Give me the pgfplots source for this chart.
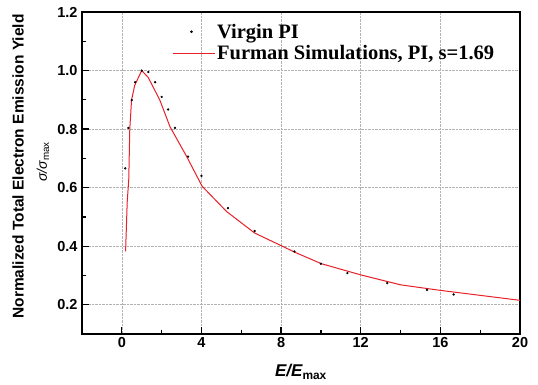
\documentclass[border=0pt]{standalone}
\usepackage{pgfplots}
\pgfplotsset{compat=1.18}
\usepackage{fontspec}
\setmainfont{Liberation Sans}
\newfontfamily\legfont{Liberation Serif}
\definecolor{fred}{RGB}{232,32,40}
\pgfplotsset{
  dotleg/.style={legend image code/.code={\path[draw=none] (0pt,0pt) -- (42pt,0pt); \fill[black] (19pt,0pt) circle (1.1pt);}},
  lineleg/.style={legend image code/.code={\draw[fred, line width=1.1pt] (0pt,0pt) -- (42pt,0pt);}},
}
\begin{document}
\begin{tikzpicture}
\begin{axis}[
  scale only axis, clip=false,
  width=438pt, height=322pt,
  xmin=-2, xmax=20, ymin=0.1, ymax=1.2,
  xtick={0,4,8,12,16,20},
  minor xtick={2,6,10,14,18},
  ytick={0.2,0.4,0.6,0.8,1.0,1.2},
  minor ytick={0.3,0.5,0.7,0.9,1.1},
  axis line style={line width=1.5pt},
  tick style={line width=1.3pt, black},
  major tick length=7pt, minor tick length=4pt,
  tick pos=left, tick align=inside,
  xmajorgrids, ymajorgrids,
  major grid style={densely dotted, gray!60, line width=0.5pt},
  /pgf/number format/assume math mode=true,
  yticklabel style={/pgf/number format/fixed, /pgf/number format/fixed zerofill, /pgf/number format/precision=1, font=\fontsize{14.5}{16}\selectfont\bfseries, xshift=-1pt},
  xticklabel style={font=\fontsize{14.5}{16}\selectfont\bfseries},
  xlabel={\bfseries\itshape E/E\textsubscript{\upshape max}},
  xlabel style={font=\fontsize{17}{19}\selectfont, at={(axis description cs:0.5,-0.118)}, anchor=center},
  ylabel={\bfseries Normalized Total Electron Emission Yield},
  ylabel style={font=\fontsize{15.5}{17}\selectfont, at={(axis description cs:-0.146,0.52)}, anchor=center},
  legend style={at={(0.205,0.97)}, anchor=north west, draw=none, fill=none,
    font=\legfont\fontsize{20.5}{22}\selectfont\bfseries, row sep=2pt,
    inner sep=0pt, legend cell align=left},
]
\addplot[only marks, mark=*, mark size=0.95pt, black, dotleg]
  coordinates {
  (0.17,0.666) (0.33,0.804) (0.5,0.899) (0.67,0.96) (1.0,1.0)
  (1.33,0.995) (1.67,0.96) (2.0,0.91) (2.33,0.867) (2.67,0.804)
  (3.33,0.706) (4.0,0.64) (5.33,0.530) (6.67,0.452) (8.67,0.382)
  (10.0,0.34) (11.33,0.308) (13.33,0.274) (15.33,0.251) (16.67,0.235)
  };
\addlegendentry{Virgin PI}
\addplot[fred, line width=1pt, no marks, lineleg]
  coordinates {
  (0.19,0.382) (0.27,0.55) (0.35,0.63) (0.40,0.80) (0.49,0.90) (0.65,0.95)
  (1.0,1.0) (1.33,0.976) (1.91,0.899) (2.42,0.808) (3.26,0.706) (4.03,0.605)
  (5.27,0.518) (6.67,0.445) (8.03,0.401) (8.7,0.379) (10.03,0.34)
  (12.0,0.302) (14.0,0.268) (16.0,0.249) (20.0,0.215)
  };
\addlegendentry{Furman Simulations, PI, s=1.69}
\node[rotate=90, anchor=center, font=\fontsize{14}{16}\selectfont] at (axis description cs:-0.089,0.535) {\itshape σ/σ\textsubscript{\upshape max}};
\end{axis}
\pgfresetboundingbox
\path ([shift={(-82pt,-51pt)}]current axis.south west) rectangle ([shift={(18pt,12pt)}]current axis.north east);
\end{tikzpicture}
\end{document}
